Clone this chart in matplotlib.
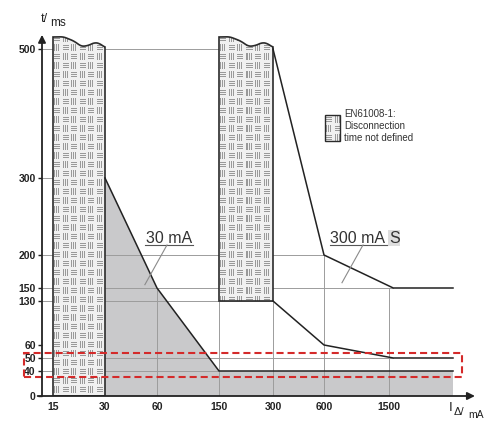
import numpy as np
import matplotlib
matplotlib.use('Agg')
import matplotlib.pyplot as plt
from matplotlib.patches import Polygon, Rectangle
from matplotlib.transforms import blended_transform_factory

plt.rcParams['font.family'] = ['Liberation Sans', 'DejaVu Sans']

# ---------------- data ----------------
x_ticks = [15, 30, 60, 150, 300, 600, 1500]
x_ticklabels = ['15', '30', '60', '150', '300', '600', '1500']
y_ticks = [0, 40, 50, 60, 130, 150, 200, 300, 500]
y_ticklabels = ['0', '40', '50', '60', '130', '150', '200', '300', '500']
x_end = 3000

# 30 mA limit curve (shaded region below it)
ma30_x = [30, 60, 150, x_end]
ma30_y = [300, 150, 40, 40]
# 300 mA S upper and lower curves
s_up_x = [300, 600, 1600, x_end]
s_up_y = [500, 200, 150, 150]
s_lo_x = [300, 600, 1600, x_end]
s_lo_y = [130, 60, 50, 50]

# zones where disconnection time is not defined
zone_x0 = [15, 150]
zone_x1 = [30, 300]
zone_ybot = [0, 130]

# reference lines
hgrid_y = [500, 300, 200, 150, 130, 50, 40]
hgrid_xend = [300, 30, 600, 1600, 300, 1600, 150]
vgrid_x = [60, 150, 300, 600, 1500]
vgrid_ytop = [150, 130, 130, 200, 150]

# highlighted band (ms)
band_lo, band_hi = 30, 54

# ---------------- scale (piecewise axis) ----------------
XA_V = np.array([10, 15, 30, 60, 150, 300, 600, 1500, 3000, 4000], float)
XA_P = np.array([42, 53, 105, 157, 219, 273, 324, 389, 453, 478], float)
YA_V = np.array([0, 40, 50, 60, 130, 150, 200, 300, 500, 525], float)
YA_P = -np.array([396, 371, 358, 345, 301, 288, 255, 178, 49, 33], float)


def xf(v):
    return np.interp(v, XA_V, XA_P)


def xi(p):
    return np.interp(p, XA_P, XA_V)


def yf(v):
    return np.interp(v, YA_V, YA_P)


def yi(p):
    return np.interp(p, YA_P, YA_V)


W, H = 501, 428
fig = plt.figure(figsize=(W / 100, H / 100), dpi=100)
ax = fig.add_axes([42 / W, (H - 396) / H, (478 - 42) / W, (396 - 33) / H])
ax.set_xscale('function', functions=(xf, xi))
ax.set_yscale('function', functions=(yf, yi))
ax.set_xlim(10, 4000)
ax.set_ylim(0, 525)
ax.set_autoscale_on(False)
for s in ax.spines.values():
    s.set_visible(False)

DARK = '#222222'
GRID = '#9c9c9c'


def d2a(x, y):
    return ax.transAxes.inverted().transform(ax.transData.transform((x, y)))


def weave(h, w):
    img = np.full((h, w), 0.94)
    cw, ch = 8.6, 9.0
    for r in range(int(h / ch) + 2):
        for c in range(int(w / cw) + 2):
            x0 = int(round(c * cw)) + 1
            y0 = int(round(r * ch)) + 1
            if (r + c) % 2 == 0:
                for k in (1, 3, 5):
                    yy = y0 + k
                    if 0 <= yy < h:
                        img[yy, max(x0, 0):min(x0 + 6, w)] = 0.6
            else:
                for k in (0, 2, 4):
                    xx = x0 + k
                    if 0 <= xx < w:
                        img[max(y0, 0):min(y0 + 7, h), xx] = 0.6
    return img


# wavy top outline of the zones (decorative shape, in px below the axis top)
wave_t = [0, 0.2, 0.4, 0.55, 0.68, 0.8, 0.9, 1.0]
wave_px = [37, 36.8, 41, 46.5, 45.5, 42.5, 43.5, 47.5]

# shaded region below the 30 mA curve
fx = [30] + ma30_x + [x_end]
fy = [0] + ma30_y + [0]
ax.fill(fx, fy, color='#c9c9cb', lw=0, zorder=1)

# reference lines
for yv, xe in zip(hgrid_y, hgrid_xend):
    ax.plot([10, xe], [yv, yv], color=GRID, lw=0.7, zorder=2)
for xv, yt in zip(vgrid_x, vgrid_ytop):
    ax.plot([xv, xv], [0, yt], color=GRID, lw=0.7, zorder=2)

# undefined zones with woven pattern
for x0, x1, yb in zip(zone_x0, zone_x1, zone_ybot):
    t = np.linspace(0, 1, 60)
    px = np.interp(t, wave_t, wave_px)
    px = np.convolve(np.pad(px, 3, mode='edge'), np.ones(7) / 7, mode='valid')
    xs = x0 + t * (x1 - x0)
    ys = yi(-px)
    verts = [(x0, yb), (x1, yb)] + list(zip(xs[::-1], ys[::-1]))
    poly = Polygon(verts, closed=True, facecolor='none', edgecolor='#2b2b2b',
                   lw=1.2, zorder=5)
    ax.add_patch(poly)
    a0 = d2a(x0, yb)
    a1 = d2a(x1, 523)
    p0 = ax.transData.transform((x0, yb))
    p1 = ax.transData.transform((x1, 523))
    w = int(round(p1[0] - p0[0]))
    h = int(round(p1[1] - p0[1]))
    im = ax.imshow(weave(h, w), cmap='gray', vmin=0, vmax=1,
                   extent=(a0[0], a1[0], a0[1], a1[1]), transform=ax.transAxes,
                   aspect='auto', interpolation='nearest', zorder=4)
    im.set_clip_path(poly)

# curves
ax.plot(ma30_x, ma30_y, color=DARK, lw=1.1, zorder=6)
ax.plot(s_up_x, s_up_y, color=DARK, lw=1.1, zorder=6)
ax.plot(s_lo_x, s_lo_y, color=DARK, lw=1.1, zorder=6)

# highlighted band
btr = blended_transform_factory(ax.transAxes, ax.transData)
ax.add_patch(Rectangle((-0.041, band_lo), 1.004, band_hi - band_lo, transform=btr,
                       fill=False, edgecolor='#d42a2a', lw=1.5,
                       ls=(0, (3.4, 1.9)), clip_on=False, zorder=8))

# labels of the curves
TXT = '#333333'
ax.text(77, 222, '30 mA', fontsize=11.5, color=TXT, ha='center', va='center', zorder=7)
ax.plot([53, 112], [213, 213], color='#555555', lw=0.8, zorder=7)
ax.plot([74.5, 53], [213, 155], color='#8a8a8a', lw=0.8, zorder=7)

ax.text(683, 222, '300 mA', fontsize=11.5, color=TXT, ha='left', va='center', zorder=7)
ax.text(1500, 222, 'S', fontsize=11.5, color=TXT, ha='left', va='center', zorder=7,
        bbox=dict(facecolor='#dedede', edgecolor='none', pad=0.5))
ax.plot([683, 1472], [213, 213], color='#555555', lw=0.8, zorder=7)
ax.plot([1140, 849], [213, 158], color='#8a8a8a', lw=0.8, zorder=7)

# legend
lx0, lx1 = (325 - 42) / 436, (340 - 42) / 436
ly0, ly1 = (396 - 141) / 363, (396 - 115) / 363
lrect = Rectangle((lx0, ly0), lx1 - lx0, ly1 - ly0, transform=ax.transAxes,
                  facecolor='none', edgecolor='#2b2b2b', lw=1.0, zorder=6)
ax.add_patch(lrect)
ax.imshow(weave(26, 15), cmap='gray', vmin=0, vmax=1,
          extent=(lx0, lx1, ly0, ly1), transform=ax.transAxes,
          aspect='auto', interpolation='nearest', zorder=5)
ax.text((344 - 42) / 436, (396 - 109) / 363,
        'EN61008-1:\nDisconnection\ntime not defined',
        transform=ax.transAxes, fontsize=7, color=TXT, ha='left', va='top',
        linespacing=1.25)

# axes arrows
ax.annotate('', xy=(0.993, 0), xytext=(-0.01, 0), xycoords='axes fraction',
            arrowprops=dict(arrowstyle='-|>', color=DARK, lw=1.3,
                            mutation_scale=11, shrinkA=0, shrinkB=0), zorder=9)
ax.annotate('', xy=(0, 0.995), xytext=(0, 0), xycoords='axes fraction',
            arrowprops=dict(arrowstyle='-|>', color=DARK, lw=1.3,
                            mutation_scale=11, shrinkA=0, shrinkB=0), zorder=9)

# ticks
ax.set_xticks(x_ticks)
ax.set_xticklabels(x_ticklabels)
ax.set_yticks(y_ticks)
ax.set_yticklabels(y_ticklabels)
ax.minorticks_off()
ax.tick_params(axis='y', length=3, width=1, pad=1.5, labelsize=7.5,
               color=DARK, labelcolor=DARK)
ax.tick_params(axis='x', length=0, pad=4, labelsize=7.5, labelcolor=DARK)
for lab in ax.get_xticklabels() + ax.get_yticklabels():
    lab.set_fontweight('bold')

# axis titles
fig.text(41 / W, 1 - 19 / H, 't/', fontsize=9, color=DARK, ha='left', va='center')
fig.text(50 / W, 1 - 23 / H, 'ms', fontsize=8.5, color=DARK, ha='left', va='center')
fig.text(449 / W, 1 - 408 / H, 'I', fontsize=9.5, color=DARK, ha='left', va='center')
fig.text(454 / W, 1 - 412 / H, 'Δ/', fontsize=8, color=DARK, ha='left', va='center')
fig.text(468 / W, 1 - 415 / H, 'mA', fontsize=7.5, color=DARK, ha='left', va='center')

ax.set_xlim(10, 4000)
ax.set_ylim(0, 525)
fig.savefig('out.png', dpi=100)
